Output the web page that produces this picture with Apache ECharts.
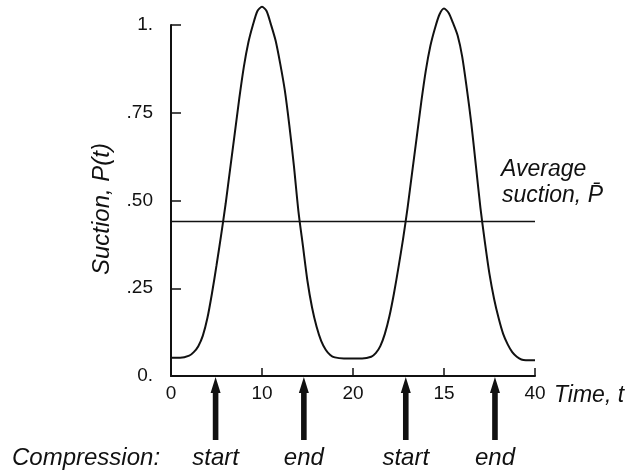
<!DOCTYPE html>
<html>
<head>
<meta charset="utf-8">
<script src="https://cdn.jsdelivr.net/npm/echarts@6/dist/echarts.min.js"></script>
<style>html,body{margin:0;padding:0;background:#fff}#c{width:629px;height:473px}</style>
</head>
<body>
<div id="c"></div>
<script>
// ---- data ----
const timeT = [0, 1, 2, 2.5, 3, 3.5, 4, 4.5, 5, 5.5, 6, 6.5, 7, 7.5, 8, 8.5, 9, 9.5, 10, 10.5, 11, 11.5, 12, 12.5, 13, 13.5, 14, 14.5, 15, 15.5, 16, 16.5, 17, 17.5, 18, 19, 20, 21, 22, 22.5, 23, 23.5, 24, 24.5, 25, 25.5, 26, 26.5, 27, 27.5, 28, 28.5, 29, 29.5, 30, 30.5, 31, 31.5, 32, 32.5, 33, 33.5, 34, 34.5, 35, 35.5, 36, 36.5, 37, 37.5, 38, 38.5, 39, 40];
const suction = [0.052, 0.052, 0.058, 0.068, 0.085, 0.115, 0.165, 0.235, 0.315, 0.40, 0.49, 0.59, 0.69, 0.79, 0.88, 0.95, 1.00, 1.04, 1.052, 1.04, 1.00, 0.955, 0.89, 0.815, 0.715, 0.60, 0.47, 0.37, 0.27, 0.195, 0.14, 0.10, 0.075, 0.06, 0.053, 0.05, 0.05, 0.05, 0.055, 0.065, 0.085, 0.12, 0.17, 0.235, 0.31, 0.39, 0.48, 0.58, 0.68, 0.78, 0.87, 0.94, 0.99, 1.03, 1.047, 1.035, 1.005, 0.97, 0.91, 0.82, 0.72, 0.60, 0.48, 0.38, 0.29, 0.22, 0.165, 0.12, 0.09, 0.068, 0.055, 0.047, 0.045, 0.045];
const averageSuction = 0.44;
const arrowTimes = [4.9, 14.6, 25.8, 35.6];
const arrowLabels = ["start", "end", "start", "end"];
const xTickLabels = ["0", "10", "20", "15", "40"];
const yTickLabels = ["0.", ".25", ".50", ".75", "1."];

const INK = '#111';
const FONT = '"Liberation Sans", Arial, Helvetica, sans-serif';

const chart = echarts.init(document.getElementById('c'), null, {renderer: 'canvas'});
const option = {
  animation: false,
  backgroundColor: '#fff',
  grid: {left: 171, right: 94, top: 25, bottom: 97},
  xAxis: {
    type: 'value', min: 0, max: 40, interval: 10,
    axisLine: {show: true, onZero: false, lineStyle: {color: INK, width: 2}},
    axisTick: {show: true, inside: true, length: 8, lineStyle: {color: INK, width: 1.5}},
    axisLabel: {
      margin: 8, color: INK, fontSize: 19, fontFamily: FONT,
      formatter: v => xTickLabels[Math.round(v / 10)]
    },
    splitLine: {show: false}
  },
  yAxis: {
    type: 'value', min: 0, max: 1, interval: 0.25,
    axisLine: {show: true, lineStyle: {color: INK, width: 2}},
    axisTick: {show: true, inside: true, length: 10, lineStyle: {color: INK, width: 1.5}},
    axisLabel: {
      margin: 18, color: INK, fontSize: 19, fontFamily: FONT,
      formatter: v => yTickLabels[Math.round(v / 0.25)]
    },
    splitLine: {show: false}
  },
  series: [
    {
      type: 'line', name: 'P(t)',
      data: timeT.map((t, i) => [t, suction[i]]),
      showSymbol: false, symbol: 'none', clip: false, smooth: 0.25,
      lineStyle: {color: INK, width: 2}
    },
    {
      type: 'line', name: 'Average',
      data: [[0, averageSuction], [40, averageSuction]],
      showSymbol: false, symbol: 'none', clip: false,
      lineStyle: {color: INK, width: 1.5}
    },
    {
      type: 'custom', name: 'Compression', clip: false,
      data: arrowTimes.map(t => [t, 0]),
      renderItem: function (params, api) {
        const p = api.coord([api.value(0), 0]);
        const x = p[0], y0 = p[1];
        return {
          type: 'group',
          children: [
            {
              type: 'polygon',
              shape: {points: [
                [x, y0 + 1], [x - 5, y0 + 17], [x - 2.8, y0 + 17], [x - 2.8, y0 + 64],
                [x + 2.8, y0 + 64], [x + 2.8, y0 + 17], [x + 5, y0 + 17]
              ]},
              style: {fill: INK, stroke: null}
            },
            {
              type: 'text',
              style: {
                text: arrowLabels[params.dataIndex], x: x, y: y0 + 82,
                align: 'center', verticalAlign: 'middle',
                font: 'italic 24px ' + FONT, fill: INK
              }
            }
          ]
        };
      }
    }
  ],
  graphic: [
    {type: 'text', x: 12, y: 458, style: {text: 'Compression:', font: 'italic 24px ' + FONT, fill: INK, verticalAlign: 'middle'}},
    {type: 'text', x: 554, y: 396, style: {text: 'Time, t', font: 'italic 23px ' + FONT, fill: INK, verticalAlign: 'middle'}},
    {type: 'text', x: 102, y: 209, rotation: Math.PI / 2,
      style: {text: 'Suction, P(t)', font: 'italic 24px ' + FONT, fill: INK, align: 'center', verticalAlign: 'middle'}},
    {type: 'text', x: 501, y: 170, style: {text: 'Average', font: 'italic 23px ' + FONT, fill: INK, verticalAlign: 'middle'}},
    {type: 'text', x: 502, y: 196, style: {text: 'suction, P\u0304', font: 'italic 23px ' + FONT, fill: INK, verticalAlign: 'middle'}}
  ]
};
chart.setOption(option);
</script>
</body>
</html>
